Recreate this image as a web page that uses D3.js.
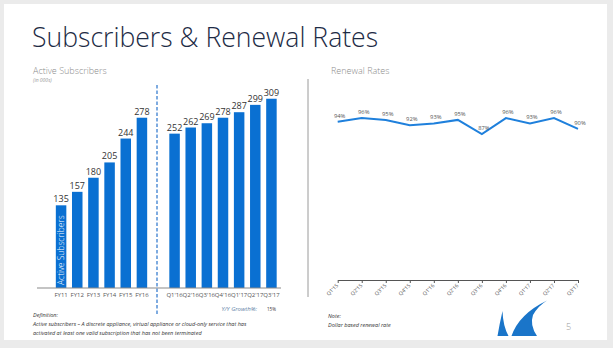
<!DOCTYPE html>
<html>
<head>
<meta charset="utf-8">
<script src="https://cdn.jsdelivr.net/npm/d3@7/dist/d3.min.js"></script>
<style>
  html, body { margin: 0; padding: 0; background: #ebebeb; }
  svg { display: block; }
  text { font-family: "Open Sans", "Noto Sans", sans-serif; }
</style>
</head>
<body>
<svg id="chart" width="613" height="348"></svg>
<script>
// Annual active subscribers (in 000s)
const fyYears = ["FY11", "FY12", "FY13", "FY14", "FY15", "FY16"];
const fySubscribers = [135, 157, 180, 205, 244, 278];

// Quarterly active subscribers (in 000s)
const quarters = ["Q1'16", "Q2'16", "Q3'16", "Q4'16", "Q1'17", "Q2'17", "Q3'17"];
const quarterSubscribers = [252, 262, 269, 278, 287, 299, 309];
const yoyGrowth = "15%";

// Dollar based renewal rate by quarter (%)
const renewalQuarters = ["Q1'15", "Q2'15", "Q3'15", "Q4'15", "Q1'16", "Q2'16", "Q3'16", "Q4'16", "Q1'17", "Q2'17", "Q3'17"];
const renewalRates = [94, 96, 95, 92, 93, 95, 87, 96, 93, 96, 90];

const blue = "#0a70d2";
const lineBlue = "#1f80dc";

const svg = d3.select("#chart");

// Slide panel
svg.append("rect").attr("x", 4).attr("y", 4).attr("width", 603).attr("height", 336).attr("fill", "#ffffff");

// Title
svg.append("text").attr("x", 32).attr("y", 47)
  .attr("font-size", 26.6).attr("font-weight", 300).attr("fill", "#1d2b45")
  .text("Subscribers & Renewal Rates");

// Section headers
svg.append("text").attr("x", 33).attr("y", 74).attr("font-size", 9).attr("fill", "#8c8c8c").attr("font-weight", 300).text("Active Subscribers");
svg.append("text").attr("x", 33).attr("y", 82).attr("font-size", 5).attr("font-style", "italic").attr("fill", "#999").text("(in 000s)");
svg.append("text").attr("x", 331).attr("y", 74).attr("font-size", 9).attr("fill", "#8c8c8c").attr("font-weight", 300).text("Renewal Rates");

// Divider between the two panels
svg.append("line").attr("x1", 308).attr("x2", 308).attr("y1", 79).attr("y2", 297)
  .attr("stroke", "#9a9a9a").attr("stroke-width", 1);

// ---------- Active subscribers bars ----------
const baseY = 288;
const y = d3.scaleLinear().domain([0, 320]).range([baseY, 92]);

const xFY = d3.scaleBand().domain(fyYears).range([53, 150]).paddingInner(0.35).paddingOuter(0.175);
const xQ = d3.scaleBand().domain(quarters).range([166.5, 279.5]).paddingInner(0.35).paddingOuter(0.175);

function drawBars(cats, vals, x) {
  const g = svg.append("g");
  g.selectAll("rect").data(cats).join("rect")
    .attr("x", d => x(d)).attr("width", x.bandwidth())
    .attr("y", (d, i) => y(vals[i])).attr("height", (d, i) => baseY - y(vals[i]))
    .attr("fill", blue);
  g.selectAll("text.val").data(cats).join("text").attr("class", "val")
    .attr("x", d => x(d) + x.bandwidth() / 2).attr("y", (d, i) => y(vals[i]) - 3)
    .attr("text-anchor", "middle").attr("font-size", 9).attr("fill", "#333")
    .text((d, i) => vals[i]);
  const ax = svg.append("g").attr("transform", `translate(0,${baseY})`)
    .call(d3.axisBottom(x).tickSize(0).tickPadding(5));
  ax.select(".domain").remove();
  ax.selectAll("text").attr("font-size", 6).attr("fill", "#555")
    .attr("font-family", "'Open Sans', sans-serif");
}
drawBars(fyYears, fySubscribers, xFY);
drawBars(quarters, quarterSubscribers, xQ);

// Baseline
svg.append("line").attr("x1", 37).attr("x2", 281).attr("y1", baseY).attr("y2", baseY)
  .attr("stroke", "#8a8a8a").attr("stroke-width", 1.2);

// Dashed separator between annual and quarterly figures
svg.append("line").attr("x1", 157).attr("x2", 157).attr("y1", 85).attr("y2", 316)
  .attr("stroke", "#3a7fd0").attr("stroke-width", 1.3).attr("stroke-dasharray", "3.5,2");

// Label inside the first bar
const fx = xFY(fyYears[0]) + xFY.bandwidth() / 2 + 3;
svg.append("text").attr("transform", `translate(${fx},${baseY - 3}) rotate(-90)`)
  .attr("font-size", 8.5).attr("fill", "#ffffff").attr("font-weight", 300)
  .text("Active Subscribers");

// Year over year growth
svg.append("text").attr("x", 257).attr("y", 311).attr("text-anchor", "end")
  .attr("font-size", 6).attr("font-style", "italic").attr("fill", "#5e7fa6").text("Y/Y Growth%:");
svg.append("text").attr("x", xQ(quarters[6]) + xQ.bandwidth() / 2).attr("y", 311).attr("text-anchor", "middle")
  .attr("font-size", 4.5).attr("fill", "#333").text(yoyGrowth);

// Definition footnote
const defLines = [
  "Definition:",
  "Active subscribers \u2013 A discrete appliance, virtual appliance or cloud-only service that has",
  "activated at least one valid subscription that has not been terminated"
];
svg.append("g").selectAll("text").data(defLines).join("text")
  .attr("x", 33).attr("y", (d, i) => 317 + i * 9)
  .attr("font-size", 5.5).attr("font-style", "italic").attr("fill", "#333").text(d => d);

// ---------- Renewal rate line ----------
const xR = d3.scalePoint().domain(renewalQuarters).range([337.7, 578]);
const yR = d3.scaleLinear().domain([0, 100]).range([289, 111]);

const axR = svg.append("g").attr("transform", "translate(0,280)")
  .call(d3.axisBottom(xR).tickSize(3).tickSizeOuter(0).tickFormat(""));
axR.select(".domain").attr("stroke", "#555").attr("stroke-width", 1);
axR.selectAll(".tick line").attr("stroke", "#555");

svg.append("g").selectAll("text").data(renewalQuarters).join("text")
  .attr("transform", d => `translate(${xR(d) + 1},${286}) rotate(-45)`)
  .attr("text-anchor", "end").attr("font-size", 5.2).attr("fill", "#555").text(d => d);

svg.append("path").datum(renewalRates)
  .attr("fill", "none").attr("stroke", lineBlue).attr("stroke-width", 2)
  .attr("d", d3.line().x((d, i) => xR(renewalQuarters[i])).y(d => yR(d)));

svg.append("g").selectAll("text").data(renewalRates).join("text")
  .attr("x", (d, i) => xR(renewalQuarters[i]) + 2).attr("y", d => yR(d) - 4)
  .attr("text-anchor", "middle").attr("font-size", 5.8).attr("fill", "#555").text(d => d + "%");

// Note footnote
svg.append("g").selectAll("text").data(["Note:", "Dollar based renewal rate"]).join("text")
  .attr("x", 328).attr("y", (d, i) => 318 + i * 9)
  .attr("font-size", 5.5).attr("font-style", "italic").attr("fill", "#333").text(d => d);

// Company mark and page number
svg.append("path").attr("fill", "#1a75c9")
  .attr("d", "M502.5,311 Q499.5,324 497.5,336 L508.5,336 Q503,326 502.5,311 Z");
svg.append("path").attr("fill", "#1a75c9")
  .attr("d", "M547,300.5 Q519,314 511.5,336 L537,336 Q529.5,325 533,315 Q538,306 547,300.5 Z");
svg.append("text").attr("x", 566).attr("y", 330).attr("font-size", 9).attr("fill", "#999").attr("font-weight", 300).text("5");
</script>
</body>
</html>
